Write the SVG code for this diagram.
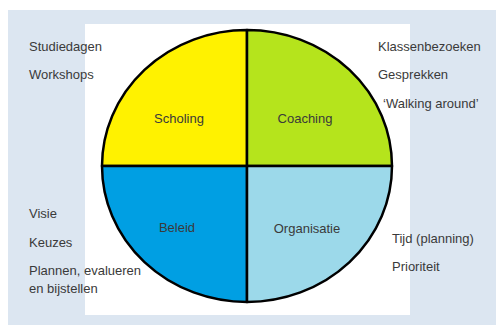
<svg xmlns="http://www.w3.org/2000/svg" width="496" height="325" viewBox="0 0 496 325">
<style>
text{font-family:"Liberation Sans",Arial,sans-serif;font-size:13px;fill:#3a3a3a}
.c{text-anchor:middle}
.q{stroke:#000;stroke-width:2.5;stroke-linejoin:round}
</style>
<rect x="8" y="10" width="488" height="315" fill="#dce6f1"/>
<rect x="85" y="24" width="325" height="291" fill="#fff"/>
<g id="scholing"><path class="q" d="M247,166 L102,166 A145,136 0 0 1 247,30 Z" fill="#fff200"/><text class="c" x="179" y="123">Scholing</text></g>
<g id="coaching"><path class="q" d="M247,166 L247,30 A145,136 0 0 1 392,166 Z" fill="#b5e41c"/><text class="c" x="305" y="123">Coaching</text></g>
<g id="beleid"><path class="q" d="M247,166 L247,302 A145,136 0 0 1 102,166 Z" fill="#009fe3"/><text class="c" x="177" y="232">Beleid</text></g>
<g id="organisatie"><path class="q" d="M247,166 L392,166 A145,136 0 0 1 247,302 Z" fill="#9cd9ea"/><text class="c" x="307" y="233">Organisatie</text></g>
<g id="labels">
<text x="29" y="51">Studiedagen</text>
<text x="29" y="79">Workshops</text>
<text x="378" y="51">Klassenbezoeken</text>
<text x="378" y="79">Gesprekken</text>
<text x="383" y="108">‘Walking around’</text>
<text x="29" y="218">Visie</text>
<text x="29" y="247">Keuzes</text>
<text x="29" y="275">Plannen, evalueren</text>
<text x="29" y="293">en bijstellen</text>
<text x="392" y="243">Tijd (planning)</text>
<text x="392" y="271">Prioriteit</text>
</g>
</svg>
